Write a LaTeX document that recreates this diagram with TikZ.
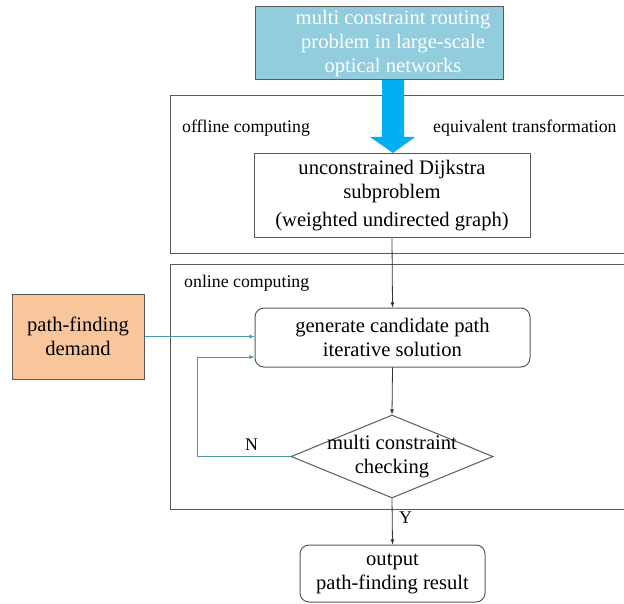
\documentclass[tikz,border=0pt]{standalone}
\usepackage{fontspec}
\setmainfont{Liberation Serif}
\usetikzlibrary{shapes.geometric}
\definecolor{problemblue}{RGB}{146,205,221}
\definecolor{demandorange}{RGB}{249,198,155}
\definecolor{flowcyan}{RGB}{0,176,240}
\definecolor{feedteal}{RGB}{75,150,172}
\definecolor{framegray}{RGB}{90,90,90}

\begin{document}
\begin{tikzpicture}[x=1pt, y=-1pt,
    box/.style={draw=framegray, line width=1pt, align=center, inner sep=0pt, font=\fontsize{20.6}{24}\selectfont},
    roundbox/.style={box, rounded corners=9pt},
    tag/.style={anchor=west, inner sep=0pt, font=\fontsize{17.8}{20}\selectfont},
    frame/.style={draw=framegray, line width=1pt},
    link/.style={draw=black!80, line width=0.8pt, -latex},
    feedback/.style={draw=feedteal, line width=0.8pt, -latex}]
            \useasboundingbox (0,0) rectangle (624,604);

            % Frames
            \draw[frame] (624,96) -- (170,96) -- (170,254) -- (624,254);
            \draw[frame] (624,265) -- (170,265) -- (170,509) -- (624,509);
            \node[tag] (offline) at (182,128) {offline computing};
            \node[tag] (equiv) at (433,128) {equivalent transformation};
            \node[tag] (online) at (184,283) {online computing};

            % Nodes
            \node[box, fill=problemblue, minimum width=248, minimum height=73] (problem) at (379,43.5) {};
            \node[box, draw=none, text=white] (problemtext) at (393,43.5) {multi constraint routing\\problem in large-scale\\optical networks};
            \node[box, minimum width=276, minimum height=84] (dijkstra) at (392,196) {unconstrained Dijkstra\\subproblem\\[4pt](weighted undirected graph)};
            \node[box, fill=demandorange, minimum width=132, minimum height=85] (demand) at (78,336.5) {path-finding\\demand};
            \node[roundbox, minimum width=275, minimum height=59] (generate) at (392.5,337.5) {generate candidate path\\iterative solution};
            \node[diamond, draw=framegray, line width=1pt, inner sep=0pt, minimum width=202, minimum height=83] (check) at (392,456.5) {};
            \node[box, draw=none, fill=none] (checktext) at (check) {multi constraint\\checking};
            \node[roundbox, minimum width=185, minimum height=57] (output) at (392.5,573.5) {output\\path-finding result};
            \coordinate (loop) at (197,357);

            % Lines
            \fill[flowcyan] (382,80) -- (404,80) -- (404,137) -- (415,137) -- (393,153) -- (370,137) -- (382,137) -- cycle;
            \draw[link] (dijkstra.south) -- (generate.north);
            \draw[feedback] (demand.east) -- (demand.east -| generate.west);
            \draw[feedback] (check.west) -| (loop) -- (loop -| generate.west);
            \draw[link] (generate.south) -- (check.north);
            \draw[link] (check.south) -- (output.north);
            \node[tag] (no) at (245,445) {N};
            \node[tag] (yes) at (399,518) {Y};
        \end{tikzpicture}
\end{document}
